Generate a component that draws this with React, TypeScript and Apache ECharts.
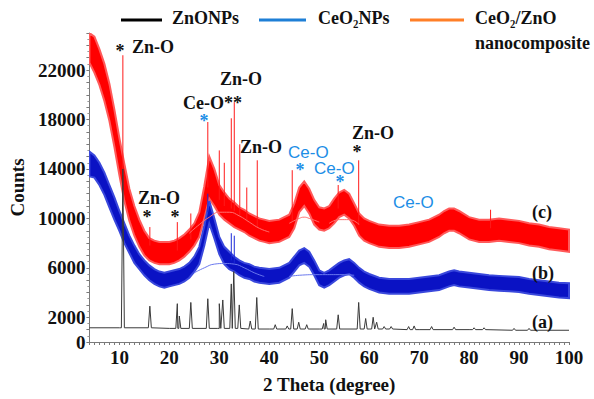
import React, { useEffect, useRef } from "react";
import * as echarts from "echarts";

// ---- data ----
// [2theta, lower edge, upper edge] of the noisy band of each pattern
const redBand: number[][] = [
  [4, 22600, 25000], [5, 21800, 24700], [6, 20800, 23700], [7, 19500, 22500], [8, 17900, 20900],
  [9, 15800, 18800], [10, 13500, 16500], [11, 11400, 14400], [12, 9800, 12400], [13, 8600, 11000],
  [14, 7700, 9900], [15, 7000, 9000], [16, 6600, 8400], [17, 6400, 8200], [18, 6300, 8100],
  [19, 6300, 8100], [20, 6300, 8100], [21, 6400, 8200], [22, 6600, 8400], [23, 6900, 8700],
  [24, 7300, 9100], [25, 7800, 9600], [26, 8500, 10500], [27, 10000, 12600], [28, 11600, 15000],
  [29, 11000, 14000], [30, 10300, 12700], [31, 9900, 12100], [32, 9600, 11600], [33, 9300, 11300],
  [34, 9100, 10900], [35, 8900, 10700], [36, 8600, 10400], [37, 8400, 10200], [38, 8200, 10000],
  [39, 8100, 9900], [40, 8000, 9800], [42, 8100, 9900], [44, 8500, 10300], [45, 9200, 11200],
  [46, 10500, 12500], [47, 11000, 13000], [48, 10400, 12400], [49, 9500, 11500], [50, 9100, 10900],
  [51, 9000, 10800], [52, 9200, 11000], [53, 9600, 11600], [54, 10100, 12100], [55, 10300, 12300],
  [56, 10000, 12000], [57, 9400, 11200], [58, 8600, 10400], [59, 8200, 10000], [60, 8000, 9800],
  [62, 7700, 9500], [64, 7600, 9400], [66, 7600, 9400], [68, 7700, 9500], [70, 7900, 9700],
  [72, 8100, 9900], [74, 8500, 10300], [75, 8800, 10600], [76, 9000, 10800], [77, 9000, 10800],
  [78, 8800, 10600], [80, 8300, 10100], [82, 8100, 9900], [84, 8100, 9900], [86, 8200, 10000],
  [88, 8100, 9900], [90, 8000, 9800], [92, 7800, 9600], [94, 7700, 9500], [96, 7500, 9300],
  [98, 7400, 9200], [100, 7300, 9100],
];

const blueBand: number[][] = [
  [4, 13400, 15400], [5, 13300, 15100], [6, 12700, 14500], [7, 11900, 13700], [8, 10900, 12700],
  [9, 9900, 11700], [10, 9000, 10600], [11, 8000, 9600], [12, 7200, 8600], [13, 6400, 7800],
  [14, 5900, 7100], [15, 5400, 6600], [16, 5000, 6200], [17, 4700, 5900], [18, 4500, 5700],
  [19, 4400, 5600], [20, 4500, 5700], [21, 4600, 5800], [22, 4700, 5900], [23, 4900, 6100],
  [24, 5200, 6400], [25, 5700, 6900], [26, 6300, 7700], [27, 7800, 9400], [28, 9600, 11400],
  [29, 8400, 10000], [30, 7100, 8500], [31, 6300, 7700], [32, 5900, 7300], [33, 5700, 6900],
  [34, 5400, 6600], [35, 5200, 6400], [36, 5100, 6300], [37, 4900, 6100], [38, 4800, 6000],
  [40, 4700, 5900], [42, 4800, 6000], [44, 5200, 6400], [45, 5700, 6900], [46, 6200, 7400],
  [47, 6400, 7600], [48, 6100, 7300], [49, 5400, 6600], [50, 4600, 5800], [51, 4400, 5600],
  [52, 4600, 5800], [53, 4900, 6100], [54, 5200, 6400], [55, 5400, 6600], [56, 5500, 6700],
  [57, 5200, 6400], [58, 4800, 6000], [59, 4500, 5700], [60, 4300, 5500], [62, 4000, 5200],
  [64, 3900, 5100], [66, 3900, 5100], [68, 3900, 5100], [70, 4000, 5200], [72, 4100, 5300],
  [74, 4200, 5400], [76, 4500, 5700], [77, 4600, 5800], [78, 4500, 5700], [80, 4400, 5600],
  [82, 4300, 5500], [84, 4200, 5400], [86, 4150, 5350], [88, 4100, 5300], [90, 4050, 5250],
  [92, 3900, 5100], [94, 3800, 5000], [96, 3700, 4900], [98, 3600, 4800], [100, 3550, 4750],
];

// sharp reflections [2theta, foot, top]
const redSpikes: number[][] = [
  [10.7, 13500, 23200], [16.1, 7800, 9300], [21.6, 7400, 9700], [24.3, 8300, 10400],
  [27.7, 12500, 17800], [30.0, 11500, 15500], [31.0, 11000, 14500], [32.4, 10800, 18100],
  [33.0, 10600, 19400], [34.1, 10200, 16000], [35.5, 9800, 12500], [37.6, 9300, 14700],
  [44.6, 9800, 13900], [53.8, 10800, 12700], [57.9, 9500, 14700], [84.3, 9200, 10700],
];
const blueSpikes: number[][] = [
  [27.7, 10500, 12000], [32.4, 6600, 8800], [33.0, 6400, 8600],
];

// ZnO NPs pattern: flat baseline + peaks [2theta, foot, top]
const blackBaseline: number[][] = [
  [4, 1150], [10, 1150], [20, 1100], [30, 1100], [40, 1050], [50, 1050],
  [60, 1050], [70, 1000], [80, 1000], [90, 950], [100, 950],
];
const blackPeaks: number[][] = [
  [10.7, 1150, 14000], [16.1, 1150, 2900], [21.6, 1100, 3100], [22.0, 1100, 2100],
  [24.3, 1100, 3200], [27.7, 1100, 3500], [30.0, 1100, 3100], [30.7, 1100, 3400],
  [32.4, 1100, 4700], [32.9, 1100, 5700], [34.0, 1100, 3000], [36.2, 1050, 1700],
  [37.5, 1050, 3600], [41.2, 1050, 1400], [43.6, 1050, 1300], [44.6, 1050, 2700],
  [45.9, 1050, 1600], [47.5, 1050, 1400], [50.9, 1050, 1500], [51.3, 1050, 1800],
  [53.8, 1050, 2200], [57.9, 1050, 3200], [59.3, 1050, 1900], [60.8, 1050, 2000],
  [61.5, 1050, 1600], [63.0, 1050, 1250], [64.4, 1050, 1250], [67.9, 1000, 1250],
  [69.0, 1000, 1300], [72.5, 1000, 1250], [77.0, 1000, 1200], [81.0, 1000, 1150],
  [83.0, 1000, 1150], [89.0, 950, 1100], [92.0, 950, 1100],
];

// thin fitted background humps
const redHump1: number[][] = [[24, 8800], [26, 9500], [28, 10100], [30, 10500], [32, 10500], [34, 10200], [36, 9700], [38, 9200], [40, 8900]];
const redHump2: number[][] = [[44, 9600], [46, 10000], [47, 10100], [48, 10000], [50, 9700]];
const redHump3: number[][] = [[52, 9600], [54, 9900], [56, 9900], [58, 9500]];
const blueHump1: number[][] = [[25, 5600], [27, 6000], [29, 6300], [31, 6350], [33, 6300], [35, 6000], [37, 5600], [39, 5300]];
const blueHump2: number[][] = [[44, 5300], [46, 5400], [50, 5450], [54, 5450], [57, 5400]];

const yTickLabels = [0, 2000, 6000, 10000, 14000, 18000, 22000];
const xTickLabels = [10, 20, 30, 40, 50, 60, 70, 80, 90, 100];

const SERIF = "Liberation Serif";
const SANS = "Liberation Sans";
const BLUE_TXT = "#1c8ee6";

function bandSeries(band: number[][], color: string, edge: string, z: number) {
  return {
    type: "custom",
    coordinateSystem: "cartesian2d",
    data: [[band[0][0], band[0][1]]],
    encode: { x: 0, y: 1 },
    clip: true,
    silent: true,
    z,
    renderItem: (_p: any, api: any) => {
      const top = band.map((p) => api.coord([p[0], p[2]]));
      const bot = band.slice().reverse().map((p) => api.coord([p[0], p[1]]));
      return {
        type: "polygon",
        shape: { points: top.concat(bot) },
        style: { fill: color, stroke: edge, lineWidth: 2 },
      };
    },
  };
}

function spikeSeries(spikes: number[][], color: string, z: number) {
  return {
    type: "custom",
    coordinateSystem: "cartesian2d",
    data: spikes,
    encode: { x: 0, y: [1, 2] },
    clip: true,
    silent: true,
    z,
    renderItem: (_p: any, api: any) => {
      const a = api.coord([api.value(0), api.value(1)]);
      const b = api.coord([api.value(0), api.value(2)]);
      return {
        type: "line",
        shape: { x1: a[0], y1: a[1], x2: b[0], y2: b[1] },
        style: { stroke: color, lineWidth: 1 },
      };
    },
  };
}

function humpSeries(pts: number[][], color: string) {
  return {
    type: "line",
    data: pts,
    smooth: true,
    showSymbol: false,
    silent: true,
    z: 5,
    lineStyle: { color, width: 1 },
  };
}

function buildBlack(): number[][] {
  const pts: number[][] = blackBaseline.map((p) => [p[0], p[1]]);
  blackPeaks.forEach(([x, foot, top]) => {
    pts.push([x - 0.3, foot], [x, top], [x + 0.3, foot]);
  });
  pts.sort((a, b) => a[0] - b[0]);
  return pts;
}

function txt(text: string, x: number, y: number, color = "#111", align = "left", lh = 14) {
  return {
    type: "text",
    x,
    y,
    style: {
      text,
      fill: color,
      fontFamily: SERIF,
      fontWeight: "bold",
      fontSize: 18,
      lineHeight: lh,
      align,
      verticalAlign: "middle",
    },
    z: 100,
  };
}

function blueTxt(text: string, x: number, y: number) {
  return {
    type: "text",
    x,
    y,
    style: {
      text,
      fill: BLUE_TXT,
      fontFamily: SANS,
      fontWeight: "normal",
      fontSize: 17,
      lineHeight: 14,
      align: "left",
      verticalAlign: "middle",
    },
    z: 100,
  };
}

function star(x: number, y: number, color = "#111") {
  return txt("*", x, y + 4, color, "center", 6);
}

export default function App() {
  const ref = useRef<HTMLDivElement>(null);
  useEffect(() => {
    document.body.style.margin = "0";
    const chart = echarts.init(ref.current!, undefined, { renderer: "svg" });
    const labelStyle = { fontFamily: SERIF, fontWeight: "bold", fontSize: 19, color: "#111" };
    chart.setOption({
      animation: false,
      backgroundColor: "#fff",
      grid: { left: 86, right: 25, top: 33, bottom: 57 },
      xAxis: {
        type: "value",
        min: 4,
        max: 100,
        interval: 1,
        axisLine: { lineStyle: { color: "#7a7a7a", width: 1 } },
        axisTick: { length: 3, lineStyle: { color: "#7a7a7a" } },
        splitLine: { show: false },
        axisLabel: {
          ...labelStyle,
          margin: 6,
          formatter: (v: number) => (xTickLabels.includes(v) ? String(v) : ""),
        },
        name: "2 Theta (degree)",
        nameLocation: "middle",
        nameGap: 33,
        nameTextStyle: { ...labelStyle },
      },
      yAxis: {
        type: "value",
        min: 0,
        max: 25000,
        interval: 1000,
        axisLine: { show: true, lineStyle: { color: "#7a7a7a", width: 1 } },
        axisTick: { show: true, length: 3, lineStyle: { color: "#7a7a7a" } },
        minorTick: { show: true, splitNumber: 2, length: 2, lineStyle: { color: "#9a9a9a" } },
        splitLine: { show: false },
        axisLabel: {
          ...labelStyle,
          margin: 4,
          formatter: (v: number) => (yTickLabels.includes(v) ? String(v) : ""),
        },
        name: "Counts",
        nameLocation: "middle",
        nameGap: 60,
        nameRotate: 90,
        nameTextStyle: { ...labelStyle },
      },
      series: [
        bandSeries(redBand, "#ff0000", "#ff5a5a", 2),
        spikeSeries(redSpikes, "#ff1a1a", 3),
        humpSeries(redHump1, "#ff7070"),
        humpSeries(redHump2, "#ff7070"),
        humpSeries(redHump3, "#ff7070"),
        bandSeries(blueBand, "#0a12c4", "#3a48dc", 4),
        spikeSeries(blueSpikes, "#1a28d8", 4),
        humpSeries(blueHump1, "#6a78ee"),
        humpSeries(blueHump2, "#6a78ee"),
        {
          type: "line",
          data: buildBlack(),
          showSymbol: false,
          silent: true,
          z: 6,
          lineStyle: { color: "#3a3a3a", width: 1 },
        },
      ],
      graphic: [
        // legend
        { type: "line", shape: { x1: 121, y1: 20, x2: 162, y2: 20 }, style: { stroke: "#000", lineWidth: 3 }, z: 100 },
        txt("ZnONPs", 172, 18),
        { type: "line", shape: { x1: 259, y1: 20, x2: 306, y2: 20 }, style: { stroke: "#1e7fd6", lineWidth: 3 }, z: 100 },
        txt("CeO₂NPs", 318, 18),
        { type: "line", shape: { x1: 410, y1: 20, x2: 464, y2: 20 }, style: { stroke: "#ff7f27", lineWidth: 3 }, z: 100 },
        txt("CeO₂/ZnO", 475, 18),
        txt("nanocomposite", 475, 43),
        // annotations
        star(120, 47),
        txt("Zn-O", 132, 47),
        txt("Zn-O", 220, 79),
        txt("Ce-O**", 183, 103),
        star(204, 117, BLUE_TXT),
        txt("Zn-O", 240, 147),
        blueTxt("Ce-O", 288, 152),
        star(300, 166, BLUE_TXT),
        blueTxt("Ce-O", 314, 168),
        star(340, 178, BLUE_TXT),
        txt("Zn-O", 352, 133),
        star(357, 148),
        blueTxt("Ce-O", 393, 202),
        txt("Zn-O", 138, 198),
        star(147, 213),
        star(175, 213),
        txt("(c)", 532, 212),
        txt("(b)", 532, 273),
        txt("(a)", 532, 322),
      ],
    });
    return () => chart.dispose();
  }, []);
  return <div ref={ref} style={{ width: 594, height: 399, position: "absolute", left: 0, top: 0 }} />;
}
